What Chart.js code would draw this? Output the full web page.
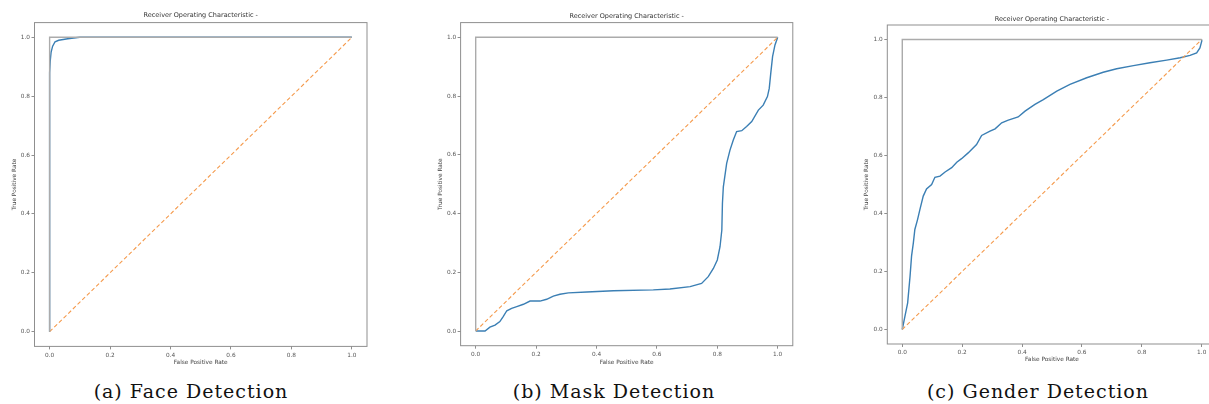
<!DOCTYPE html>
<html><head><meta charset="utf-8">
<script src="https://cdn.jsdelivr.net/npm/chart.js@4.4.1/dist/chart.umd.min.js"></script>
<style>
html,body{margin:0;padding:0;background:#fff;width:1209px;height:404px;overflow:hidden;position:relative;}
canvas{position:absolute;top:0;}
.cap{position:absolute;top:380px;width:400px;text-align:center;font-family:'DejaVu Serif',serif;font-size:19px;line-height:22px;color:#111;white-space:nowrap;letter-spacing:1px;}
</style></head><body>
<canvas id="c0"></canvas>
<canvas id="c1"></canvas>
<canvas id="c2"></canvas>
<div class="cap" id="cap0"></div>
<div class="cap" id="cap1"></div>
<div class="cap" id="cap2"></div>
<script>
// ---- data ----
const tickValues = [0, 0.2, 0.4, 0.6, 0.8, 1.0];
const chanceFpr = [0, 1];
const chanceTpr = [0, 1];
const perfectFpr = [0, 0, 1];
const perfectTpr = [0, 1, 1];

const faceFpr = [0, 0, 0.002, 0.005, 0.01, 0.018, 0.03, 0.06, 0.1, 1];
const faceTpr = [0, 0.88, 0.92, 0.95, 0.97, 0.985, 0.99, 0.995, 1, 1];

const maskFpr = [0, 0.031, 0.047, 0.064, 0.08, 0.091, 0.103, 0.119, 0.136, 0.158, 0.18, 0.213, 0.235, 0.257, 0.279, 0.307, 0.368, 0.456, 0.588, 0.643, 0.71, 0.748, 0.77, 0.787, 0.8, 0.809, 0.815, 0.817, 0.82, 0.831, 0.842, 0.853, 0.864, 0.881, 0.897, 0.914, 0.936, 0.952, 0.966, 0.972, 0.977, 0.983, 0.991, 1];
const maskTpr = [0, 0, 0.013, 0.02, 0.032, 0.049, 0.069, 0.077, 0.083, 0.091, 0.102, 0.102, 0.108, 0.119, 0.125, 0.13, 0.133, 0.137, 0.14, 0.143, 0.151, 0.162, 0.185, 0.213, 0.242, 0.287, 0.344, 0.435, 0.491, 0.571, 0.616, 0.65, 0.679, 0.682, 0.696, 0.713, 0.752, 0.769, 0.798, 0.826, 0.877, 0.934, 0.974, 1];

const genderFpr = [0, 0.009, 0.018, 0.026, 0.031, 0.037, 0.042, 0.051, 0.059, 0.07, 0.081, 0.098, 0.109, 0.126, 0.143, 0.165, 0.182, 0.198, 0.22, 0.248, 0.265, 0.293, 0.31, 0.332, 0.354, 0.387, 0.41, 0.443, 0.471, 0.516, 0.56, 0.616, 0.671, 0.716, 0.772, 0.827, 0.883, 0.928, 0.961, 0.983, 0.994, 1, 1];
const genderTpr = [0, 0.046, 0.092, 0.184, 0.253, 0.299, 0.345, 0.379, 0.414, 0.46, 0.485, 0.5, 0.525, 0.529, 0.543, 0.558, 0.577, 0.589, 0.609, 0.638, 0.669, 0.684, 0.692, 0.713, 0.722, 0.733, 0.753, 0.776, 0.793, 0.822, 0.845, 0.868, 0.887, 0.899, 0.91, 0.92, 0.929, 0.937, 0.945, 0.954, 0.971, 0.994, 1];

const chartTitle = 'Receiver Operating Characteristic -';
const xAxisTitle = 'False Positive Rate';
const yAxisTitle = 'True Positive Rate';
const captions = ['(a) Face Detection', '(b) Mask Detection', '(c) Gender Detection'];

// ---- layout (page pixels) ----
const geos = [
  {L: 34.5, R: 367, T: 22.6, B: 346.4, titleY: 15.8, xTitleY: 362.5, capX: 191},
  {L: 460.6, R: 792.8, T: 22.6, B: 345.7, titleY: 16, xTitleY: 362.5, capX: 614},
  {L: 887.3, R: 1216.7, T: 25, B: 344, titleY: 19, xTitleY: 359.5, capX: 1038}
];

const pts = (xs, ys) => xs.map((x, i) => ({x: x, y: ys[i]}));

const framePlugin = {
  id: 'frame',
  afterDraw(chart) {
    const a = chart.chartArea, c = chart.ctx;
    c.save();
    c.strokeStyle = '#8f8f8f';
    c.lineWidth = 1;
    c.strokeRect(a.left, a.top, a.right - a.left, a.bottom - a.top);
    c.restore();
  }
};

function makeChart(idx, fpr, tpr) {
  const g = geos[idx];
  const cv = document.getElementById('c' + idx);
  const cl = Math.floor(g.L) - 36;
  const cw = Math.ceil(g.R) + 6 - cl;
  const ch = 372;
  cv.width = cw; cv.height = ch;
  cv.style.left = cl + 'px';
  cv.style.width = cw + 'px'; cv.style.height = ch + 'px';
  const yW = g.L - cl;
  const padRight = cw - (g.R - cl);
  const xH = ch - g.B;
  const tFs = 6.5, tLh = tFs * 1.2;
  const aFs = 5.8, aLh = aFs * 1.2;
  const fam = "'DejaVu Sans', sans-serif";
  const setTicks = s => { s.ticks = tickValues.map(v => ({value: v})); };

  new Chart(cv, {
    type: 'scatter',
    data: {
      datasets: [
        {data: pts(perfectFpr, perfectTpr), showLine: true, borderColor: '#ababab', borderWidth: 1.4, pointRadius: 0, fill: false},
        {data: pts(chanceFpr, chanceTpr), showLine: true, borderColor: '#f59a4c', borderWidth: 1.1, borderDash: [4, 2.5], pointRadius: 0, fill: false},
        {data: pts(fpr, tpr), showLine: true, borderColor: '#3b7fb4', borderWidth: 1.4, pointRadius: 0, fill: false, tension: 0}
      ]
    },
    options: {
      responsive: false,
      animation: false,
      events: [],
      layout: {padding: {left: 0, top: 0, right: padRight, bottom: 0}},
      plugins: {
        legend: {display: false},
        tooltip: {enabled: false},
        title: {
          display: true, text: chartTitle, fullSize: false,
          color: '#333', font: {family: fam, size: tFs, weight: 'normal', lineHeight: 1.2},
          padding: {top: g.titleY - tLh / 2, bottom: g.T - g.titleY - tLh / 2}
        }
      },
      scales: {
        x: {
          type: 'linear', min: -0.05, max: 1.05,
          afterBuildTicks: setTicks,
          afterFit: s => { s.height = xH; },
          border: {display: false},
          grid: {drawOnChartArea: false, drawTicks: true, tickLength: 3, color: '#8f8f8f'},
          ticks: {autoSkip: false, maxRotation: 0, padding: 2.5, color: '#555',
                  font: {family: fam, size: aFs}, callback: v => Number(v).toFixed(1)},
          title: {display: true, text: xAxisTitle, color: '#444', font: {family: fam, size: aFs, lineHeight: 1.2},
                  padding: {top: 0, bottom: ch - g.xTitleY - aLh / 2}}
        },
        y: {
          type: 'linear', min: -0.05, max: 1.05,
          afterBuildTicks: setTicks,
          afterFit: s => { s.width = yW; },
          border: {display: false},
          grid: {drawOnChartArea: false, drawTicks: true, tickLength: 3, color: '#8f8f8f'},
          ticks: {autoSkip: false, padding: 1.5, color: '#555',
                  font: {family: fam, size: aFs}, callback: v => Number(v).toFixed(1)},
          title: {display: true, text: yAxisTitle, color: '#444', font: {family: fam, size: aFs, lineHeight: 1.2},
                  padding: {top: yW - 20.5 - aLh / 2, bottom: 0}}
        }
      }
    },
    plugins: [framePlugin]
  });

  const cap = document.getElementById('cap' + idx);
  cap.textContent = captions[idx];
  cap.style.left = (g.capX - 200) + 'px';
}

makeChart(0, faceFpr, faceTpr);
makeChart(1, maskFpr, maskTpr);
makeChart(2, genderFpr, genderTpr);
</script>
</body></html>
